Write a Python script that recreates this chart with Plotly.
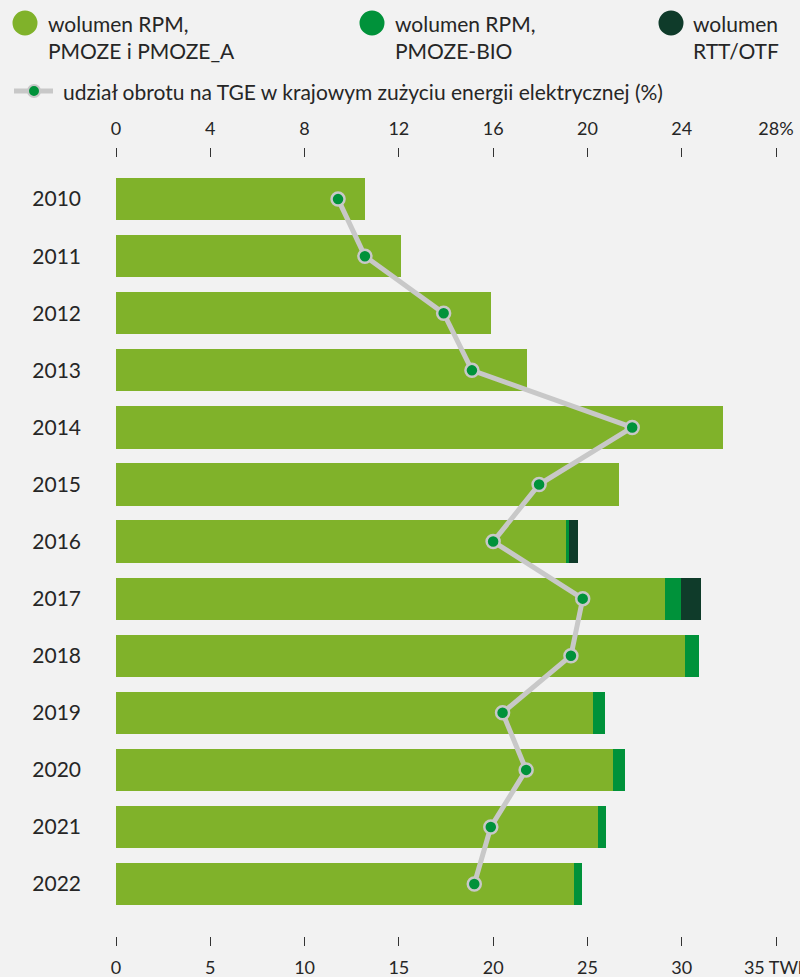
import plotly.graph_objects as go

years = ["2010", "2011", "2012", "2013", "2014", "2015", "2016",
         "2017", "2018", "2019", "2020", "2021", "2022"]
vol_pmoze = [13.2, 15.1, 19.9, 21.8, 32.2, 26.7, 23.9, 29.1, 30.2, 25.3, 26.35, 25.55, 24.3]
vol_bio = [0, 0, 0, 0, 0, 0, 0.1, 0.85, 0.74, 0.64, 0.64, 0.42, 0.42]
vol_rtt = [0, 0, 0, 0, 0, 0, 0.5, 1.06, 0, 0, 0, 0, 0]
share_pct = [9.42, 10.56, 13.9, 15.1, 21.9, 17.95, 16.0, 19.8, 19.3, 16.4, 17.4, 15.9, 15.2]

bottom_ticks = [0, 5, 10, 15, 20, 25, 30, 35]
bottom_labels = ["0", "5", "10", "15", "20", "25", "30", "35 TWh"]
top_ticks = [0, 4, 8, 12, 16, 20, 24, 28]
top_labels = ["0", "4", "8", "12", "16", "20", "24", "28%"]

C_LIGHT = "#80b22a"
C_BIO = "#00923a"
C_RTT = "#0f3b2a"
C_LINE = "#c8c8c8"
BG = "#f2f2f2"
TXT = "#262626"
FONT = "Lato"

fig = go.Figure()
for vals, col, name in [(vol_pmoze, C_LIGHT, "wolumen RPM, PMOZE i PMOZE_A"),
                        (vol_bio, C_BIO, "wolumen RPM, PMOZE-BIO"),
                        (vol_rtt, C_RTT, "wolumen RTT/OTF")]:
    fig.add_trace(go.Bar(y=years, x=vals, orientation="h", marker=dict(color=col, line=dict(width=0)),
                         name=name, showlegend=False, xaxis="x", yaxis="y"))

fig.add_trace(go.Scatter(y=years, x=share_pct, xaxis="x2", yaxis="y", mode="lines+markers",
                         line=dict(color=C_LINE, width=5),
                         marker=dict(color=C_BIO, size=13, line=dict(color=C_LINE, width=2.5)),
                         showlegend=False, cliponaxis=False))

W, H = 800, 977
L, R, T, B = 116, 24, 158, 41
pw, ph = W - L - R, H - T - B

def px(x):
    return (x - L) / pw

def py(y):
    return (H - B - y) / ph

shapes = []
annotations = []
legend_items = [(25, C_LIGHT, 46, "wolumen RPM,<br>PMOZE i PMOZE_A"),
                (372, C_BIO, 393, "wolumen RPM,<br>PMOZE-BIO"),
                (671, C_RTT, 691, "wolumen<br>RTT/OTF")]
for cx, col, tx, text in legend_items:
    r = 12.5
    shapes.append(dict(type="circle", xref="paper", yref="paper",
                       x0=px(cx - r), x1=px(cx + r), y0=py(23 + r), y1=py(23 - r),
                       fillcolor=col, line=dict(width=0), layer="above"))
    annotations.append(dict(xref="paper", yref="paper", x=px(tx), y=py(9), xanchor="left", yanchor="top",
                            text=text, showarrow=False, align="left",
                            font=dict(family=FONT, size=21, color=TXT)))
# line legend
shapes.append(dict(type="line", xref="paper", yref="paper", x0=px(14), x1=px(53), y0=py(91), y1=py(91),
                   line=dict(color=C_LINE, width=5), layer="above"))
shapes.append(dict(type="circle", xref="paper", yref="paper", x0=px(28), x1=px(40), y0=py(97), y1=py(85),
                   fillcolor=C_BIO, line=dict(color=C_LINE, width=2), layer="above"))
annotations.append(dict(xref="paper", yref="paper", x=px(61), y=py(92), xanchor="left", yanchor="middle",
                        text="udział obrotu na TGE w krajowym zużyciu energii elektrycznej (%)",
                        showarrow=False, font=dict(family=FONT, size=21, color=TXT)))

fig.update_layout(
    template="none",
    width=W, height=H, barmode="stack", bargap=0.26,
    paper_bgcolor=BG, plot_bgcolor=BG,
    margin=dict(l=L, r=R, t=T, b=B),
    font=dict(family=FONT, size=18, color=TXT),
    shapes=shapes, annotations=annotations,
    xaxis=dict(range=[0, 35], tickvals=bottom_ticks, ticktext=bottom_labels, side="bottom",
               automargin=False, ticklabeloverflow="allow", ticklabelstandoff=6,
               showgrid=False, zeroline=False, showline=False, ticks="outside", ticklen=9,
               tickwidth=1, tickcolor="#333333", tickfont=dict(size=18, color=TXT), fixedrange=True),
    xaxis2=dict(range=[0, 28], tickvals=top_ticks, ticktext=top_labels, side="top", overlaying="x",
                automargin=False, ticklabeloverflow="allow", ticklabelstandoff=6,
                anchor="y", showgrid=False, zeroline=False, showline=False, ticks="outside", ticklen=9,
                tickwidth=1, tickcolor="#333333", tickfont=dict(size=18, color=TXT)),
    yaxis=dict(type="category", categoryorder="array", categoryarray=years, automargin=False,
               range=[12.91, -0.72], showgrid=False, zeroline=False, showline=False,
               ticks="", ticklabelstandoff=34, tickfont=dict(size=21, color=TXT)),
)

fig.write_html("out.html", config={"displayModeBar": False},
               post_script="document.body.style.margin='0';document.body.style.background='#f2f2f2';")
